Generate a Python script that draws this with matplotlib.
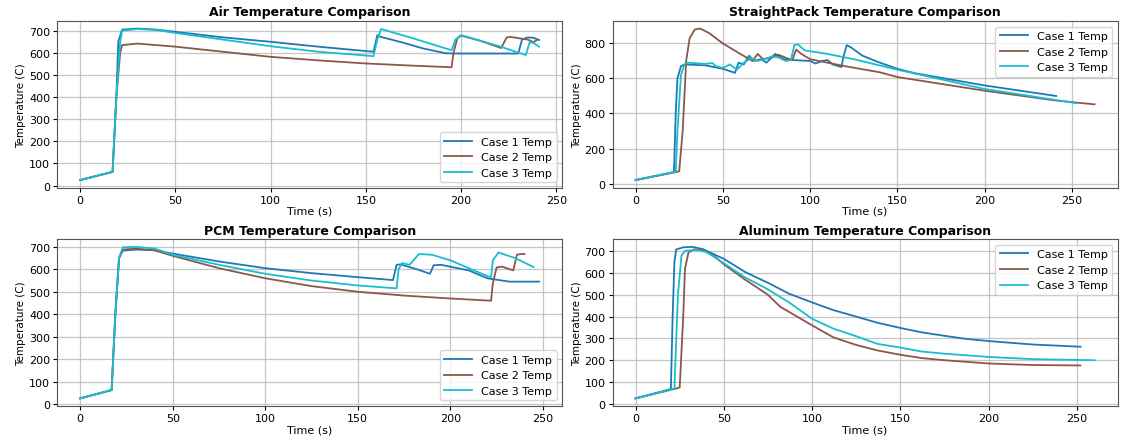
import matplotlib
matplotlib.use("Agg")
import matplotlib.pyplot as plt
from matplotlib.ticker import MultipleLocator

colors = ["#1f77b4", "#8c564b", "#17becf"]
labels = ["Case 1 Temp", "Case 2 Temp", "Case 3 Temp"]

# Air
air_t1 = [0, 17, 19, 20, 22, 30, 40, 50, 75, 100, 125, 154, 156, 158, 170, 180, 192, 200, 230, 232, 235, 238, 241]
air_y1 = [25, 62, 400, 650, 705, 710, 705, 695, 670, 650, 628, 605, 680, 672, 645, 620, 598, 597, 597, 660, 670, 668, 658]
air_t2 = [0, 17, 19, 21, 22, 30, 50, 75, 100, 125, 150, 175, 195, 196, 198, 200, 210, 221, 224, 226, 235, 238, 240]
air_y2 = [25, 62, 400, 600, 635, 642, 628, 605, 582, 566, 552, 542, 535, 600, 665, 678, 655, 622, 670, 672, 660, 648, 660]
air_t3 = [0, 17, 19, 21, 22, 30, 40, 50, 75, 100, 125, 150, 154, 156, 158, 175, 195, 197, 200, 220, 234, 236, 238, 241]
air_y3 = [25, 62, 400, 650, 700, 708, 703, 690, 660, 630, 605, 588, 585, 660, 708, 665, 612, 660, 680, 630, 590, 648, 645, 628]

# StraightPack
sp_t1 = [0, 22, 23, 24, 26, 28, 40, 50, 57, 59, 62, 65, 68, 72, 75, 80, 85, 90, 100, 103, 107, 110, 113, 118, 119, 121, 123, 130, 140, 150, 160, 200, 241]
sp_y1 = [20, 65, 400, 600, 670, 680, 675, 655, 632, 690, 680, 730, 700, 710, 690, 740, 710, 705, 700, 685, 700, 705, 680, 665, 720, 790, 780, 730, 690, 655, 630, 560, 500]
sp_t2 = [0, 23, 25, 27, 29, 31, 34, 37, 42, 50, 60, 67, 70, 73, 78, 82, 88, 90, 92, 95, 100, 110, 120, 140, 150, 200, 240, 263]
sp_y2 = [20, 65, 70, 300, 700, 830, 880, 885, 860, 800, 740, 700, 740, 710, 720, 735, 710, 710, 765, 740, 710, 690, 670, 635, 608, 530, 475, 452]
sp_t3 = [0, 23, 24, 26, 28, 30, 40, 44, 46, 50, 54, 58, 62, 66, 70, 74, 78, 82, 86, 89, 91, 93, 97, 110, 125, 150, 200, 253]
sp_y3 = [20, 68, 300, 620, 680, 690, 683, 688, 670, 660, 680, 650, 690, 715, 700, 710, 725, 720, 700, 705, 790, 795, 760, 740, 710, 650, 540, 458]

# PCM
pcm_t1 = [0, 17, 19, 21, 23, 30, 40, 50, 75, 100, 125, 150, 169, 171, 173, 182, 189, 191, 195, 210, 220, 232, 248]
pcm_y1 = [25, 62, 400, 650, 683, 688, 685, 670, 635, 605, 583, 565, 552, 620, 622, 600, 580, 618, 620, 595, 560, 545, 545]
pcm_t2 = [0, 17, 19, 21, 23, 30, 40, 50, 75, 100, 125, 150, 175, 200, 222, 223, 225, 228, 234, 236, 238, 240]
pcm_y2 = [25, 62, 400, 650, 688, 692, 685, 660, 605, 560, 525, 500, 483, 470, 460, 540, 608, 612, 595, 665, 668, 668]
pcm_t3 = [0, 17, 19, 21, 23, 30, 40, 50, 75, 100, 125, 150, 171, 172, 174, 178, 183, 190, 200, 220, 222, 223, 226, 235, 245]
pcm_y3 = [25, 62, 400, 650, 698, 700, 693, 665, 620, 580, 550, 528, 515, 600, 628, 620, 668, 665, 640, 570, 565, 640, 675, 650, 610]

# Aluminum
al_t1 = [0, 20, 21, 22, 23, 27, 32, 38, 50, 62, 75, 87, 100, 112, 125, 137, 150, 162, 175, 187, 200, 225, 252]
al_y1 = [25, 68, 400, 650, 708, 718, 720, 710, 665, 605, 555, 505, 465, 430, 400, 372, 348, 328, 312, 298, 288, 272, 262]
al_t2 = [0, 22, 25, 27, 28, 30, 33, 38, 45, 50, 62, 75, 82, 100, 112, 125, 137, 150, 162, 175, 200, 225, 252]
al_y2 = [25, 68, 75, 400, 620, 695, 708, 705, 675, 640, 570, 500, 445, 360, 305, 270, 245, 225, 210, 200, 185, 178, 176]
al_t3 = [0, 22, 24, 26, 28, 35, 40, 50, 62, 75, 87, 100, 112, 125, 137, 150, 162, 175, 200, 225, 260]
al_y3 = [25, 70, 500, 680, 702, 705, 697, 645, 580, 525, 465, 390, 345, 310, 275, 258, 240, 230, 215, 205, 200]

panels = [
    ("Air Temperature Comparison", [(air_t1, air_y1), (air_t2, air_y2), (air_t3, air_y3)], "lower right", 100),
    ("StraightPack Temperature Comparison", [(sp_t1, sp_y1), (sp_t2, sp_y2), (sp_t3, sp_y3)], "upper right", 200),
    ("PCM Temperature Comparison", [(pcm_t1, pcm_y1), (pcm_t2, pcm_y2), (pcm_t3, pcm_y3)], "lower right", 100),
    ("Aluminum Temperature Comparison", [(al_t1, al_y1), (al_t2, al_y2), (al_t3, al_y3)], "upper right", 100),
]

fig, axes = plt.subplots(2, 2, figsize=(11.22, 4.39), dpi=100)
fig.subplots_adjust(left=0.051, right=0.996, top=0.95, bottom=0.073, wspace=0.1, hspace=0.31)

for ax, (title, series, loc, ystep) in zip(axes.flat, panels):
    for (t, y), c, lab in zip(series, colors, labels):
        ax.plot(t, y, color=c, label=lab, linewidth=1.3)
    ax.set_title(title, fontsize=9, fontweight="bold", pad=4)
    ax.set_xlabel("Time (s)", fontsize=8, labelpad=1)
    ax.set_ylabel("Temperature (C)", fontsize=7.5, labelpad=2)
    ax.yaxis.set_major_locator(MultipleLocator(ystep))
    ax.tick_params(labelsize=8, length=3, pad=2)
    ax.grid(True, color="#b8b8b8", linewidth=0.9, alpha=0.8)
    for s in ax.spines.values():
        s.set_color("#555555")
    ax.legend(loc=loc, fontsize=8, handlelength=2.5)

fig.savefig("out.png", dpi=100)
